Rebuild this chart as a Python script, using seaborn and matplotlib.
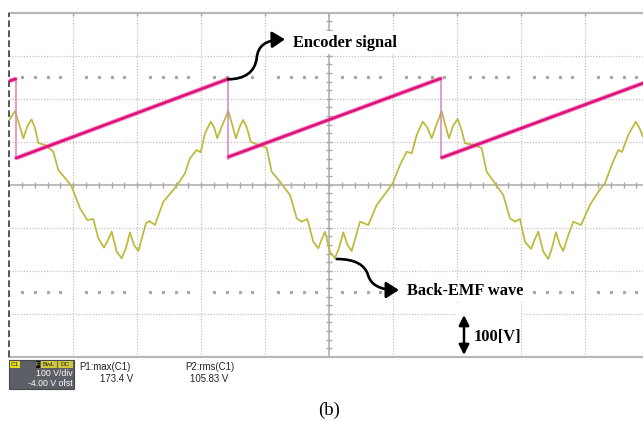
import numpy as np
import pandas as pd
import matplotlib
matplotlib.use("Agg")
import matplotlib.pyplot as plt
import seaborn as sns
from matplotlib.path import Path
from matplotlib.patches import FancyArrowPatch, Rectangle

# ---------------- data (time in divisions, voltage in V; 100 V/div) ----------------
emf_t = [0.000, 0.089, 0.152, 0.219, 0.284, 0.347, 0.402, 0.453, 0.558, 0.688,
         0.766, 0.897, 0.975, 1.105, 1.219, 1.313, 1.391, 1.480, 1.542, 1.600,
         1.678, 1.756, 1.823, 1.886, 1.948, 2.016, 2.081, 2.136, 2.188, 2.277,
         2.406, 2.563, 2.641, 2.745, 2.823, 2.928, 2.991, 3.058, 3.147, 3.198,
         3.250, 3.323, 3.422, 3.480, 3.542, 3.605, 3.656, 3.714, 3.772, 3.891,
         4.022, 4.100, 4.230, 4.386, 4.491, 4.569, 4.656, 4.750, 4.828, 4.878,
         4.933, 5.011, 5.089, 5.152, 5.219, 5.284, 5.350, 5.417, 5.480, 5.609,
         5.741, 5.897, 5.991, 6.105, 6.209, 6.288, 6.366, 6.459, 6.527, 6.600,
         6.667, 6.756, 6.808, 6.870, 6.933, 7.006, 7.058, 7.120, 7.277, 7.381,
         7.459, 7.589, 7.719, 7.823, 7.902, 7.980, 8.058, 8.152, 8.206, 8.266,
         8.344, 8.422, 8.480, 8.542, 8.605, 8.656, 8.730, 8.813, 8.933, 9.073,
         9.203, 9.308, 9.413, 9.516, 9.573, 9.672, 9.788, 9.847, 9.902]
emf_v = [150.5, 171.4, 141.2, 107.9, 136.5, 151.6, 131.9, 97.0, 92.3, 76.7,
         34.2, 10.9, -4.7, -54.9, -82.1, -79.8, -124.7, -146.5, -128.6, -109.3,
         -155.8, -171.2, -147.2, -110.7, -140.2, -154.2, -119.3, -89.8, -84.4, -93.7,
         -39.5, -12.3, 3.3, 26.5, 61.4, 80.7, 75.3, 119.5, 146.5, 134.2,
         107.9, 136.5, 171.4, 141.2, 107.9, 136.5, 150.5, 131.9, 100.0, 92.3,
         86.0, 30.2, 7.0, -24.0, -78.1, -86.0, -79.8, -132.6, -147.9, -128.6,
         -109.3, -155.8, -171.2, -147.2, -110.7, -140.2, -154.2, -119.3, -86.0, -93.7,
         -47.2, -16.3, 3.3, 45.8, 76.7, 73.0, 115.6, 146.5, 134.2, 107.9,
         136.5, 171.4, 141.2, 107.9, 136.5, 152.8, 131.9, 96.3, 92.3, 84.7,
         30.2, 3.3, -24.0, -78.1, -86.0, -79.8, -132.6, -149.5, -128.6, -109.3,
         -155.8, -172.8, -147.2, -110.7, -140.2, -154.2, -119.3, -86.0, -93.7, -47.2,
         -16.3, 3.3, 45.8, 80.7, 76.0, 115.6, 146.5, 131.9, 111.6]

# encoder sawtooth ramps (start/end) and resets
ramp_t0 = [0.000, 0.110, 3.430, 6.760]
ramp_t1 = [0.097, 3.422, 6.740, 9.902]
ramp_v0 = [241.0, 62.0, 65.0, 63.0]
ramp_v1 = [246.0, 246.0, 247.0, 236.0]
reset_t = [0.097, 3.425, 6.745]
reset_hi = [246.0, 246.0, 247.0]
reset_lo = [60.0, 57.0, 61.0]

meas_labels = ["P1:max(C1)", "P2:rms(C1)"]
meas_values = ["173.4 V", "105.83 V"]
scale_text = ["100 V/div", "-4.00 V ofst"]

# ---------------- figure ----------------
sns.set_theme(style="white")
plt.rcParams["font.family"] = ["Liberation Sans", "DejaVu Sans"]

W, H = 643, 421
fig = plt.figure(figsize=(W / 100, H / 100), dpi=100)
fig.patch.set_facecolor("white")
ax = fig.add_axes([9.3 / W, 64.3 / H, (W - 9.3) / W, 344 / H])
ax.set_xlim(0, 9.902)
ax.set_ylim(-400, 400)
ax.set_facecolor("white")
for s in ax.spines.values():
    s.set_visible(False)
ax.set_xticks([])
ax.set_yticks([])

grid_c = "#c2c2c2"
for k in range(1, 10):
    if k != 5:
        ax.axvline(k, color=grid_c, lw=0.9, ls=(0, (1, 1.3)), zorder=1)
for v in [-300, -200, -100, 100, 200, 300]:
    ax.axhline(v, color=grid_c, lw=0.9, ls=(0, (1, 1.3)), zorder=1)
ax.axhline(0, color="#a9a9a9", lw=1.1, zorder=1)
ax.axvline(5, color="#a9a9a9", lw=1.1, zorder=1)
ax.axhline(400, color="#b8b8b8", lw=1.6, zorder=1, clip_on=False)
ax.axhline(-400, color="#b8b8b8", lw=1.6, zorder=1, clip_on=False)
ax.axvline(0, color="#3a3a3a", lw=1.2, ls=(0, (4, 2)), zorder=1, clip_on=False)

minor_x = [x for x in np.arange(0.2, 9.9, 0.2) if abs(x - round(x)) > 0.05]
ax.vlines(np.arange(0.2, 9.9, 0.2), -7, 7, color="#a9a9a9", lw=1.0, zorder=1)
ax.hlines(np.arange(-380, 400, 20), 4.955, 5.045, color="#a9a9a9", lw=1.0, zorder=1)
ax.vlines(range(1, 10), 392, 400, color="#a9a9a9", lw=1.0, zorder=1)
for yy in (250, -250):
    ax.plot(minor_x, [yy] * len(minor_x), ls="none", marker="s", ms=1.3,
            color="#a6a6a6", zorder=1)

# back-EMF waveform
emf = pd.DataFrame({"t": emf_t, "v": emf_v})
sns.lineplot(data=emf, x="t", y="v", sort=False, estimator=None, ax=ax,
             color="#bdb93a", lw=1.25, zorder=3)
ax.lines[-1].set_solid_joinstyle("round")

# encoder signal resets and ramps
ax.vlines(reset_t, reset_lo, reset_hi, color="#d882c4", lw=1.1, zorder=4)
for t0, t1, v0, v1 in zip(ramp_t0, ramp_t1, ramp_v0, ramp_v1):
    seg = pd.DataFrame({"t": [t0, t1], "v": [v0, v1]})
    sns.lineplot(data=seg, x="t", y="v", sort=False, estimator=None, ax=ax,
                 color="#e8409a", lw=3.4, alpha=0.45, zorder=5)
    sns.lineplot(data=seg, x="t", y="v", sort=False, estimator=None, ax=ax,
                 color="#e0137c", lw=2.0, zorder=6)
ax.set_xlabel("")
ax.set_ylabel("")
ax.set_xlim(0, 9.902)
ax.set_ylim(-400, 400)

# annotations
serif = dict(family=["Liberation Serif", "DejaVu Serif"], weight="bold", size=11.8)
wbox = dict(facecolor="white", edgecolor="none", pad=2.5)
ax.text(4.428, 320.9, "Encoder signal", va="baseline", ha="left", color="black",
        zorder=8, bbox=wbox, **serif)
ax.text(6.219, -256.5, "Back-EMF wave", va="baseline", ha="left", color="black",
        zorder=8, bbox=wbox, **serif)
# white patch behind the scale marker
ax.add_patch(Rectangle((6.98, -397), 1.02, 120, facecolor="white", edgecolor="none", zorder=7))
ax.text(7.25, -363.5, "100[V]", va="baseline", ha="left", color="black", zorder=8, **serif)

codes = [Path.MOVETO, Path.CURVE4, Path.CURVE4, Path.CURVE4,
         Path.CURVE4, Path.CURVE4, Path.CURVE4]
enc_path = Path([(3.422, 245.1), (3.683, 245.8), (3.839, 262.1), (3.866, 294.6),
                 (3.886, 322.5), (3.995, 336.5), (4.308, 338.1)], codes)
emf_path = Path([(5.116, -172.8), (5.402, -172.8), (5.558, -186.7), (5.605, -210.0),
                 (5.652, -233.3), (5.792, -244.9), (6.089, -244.9)], codes)
for p in (enc_path, emf_path):
    arr = FancyArrowPatch(path=p, arrowstyle="-|>,head_length=0.55,head_width=0.35",
                          mutation_scale=14, lw=1.9, color="black", zorder=9)
    ax.add_patch(arr)
ax.annotate("", xy=(7.105, -303), xytext=(7.105, -396),
            arrowprops=dict(arrowstyle="<|-|>,head_length=0.5,head_width=0.25",
                            mutation_scale=12, lw=1.8, color="black",
                            shrinkA=0, shrinkB=0), zorder=9, annotation_clip=False)

# info box (scope readout)
def fx(x):
    return x / W

def fy(y):
    return 1 - y / H

fig.add_artist(Rectangle((fx(9.3), fy(388.5)), fx(74) - fx(9.3), fy(360) - fy(388.5),
                         transform=fig.transFigure, facecolor="#5d5f66",
                         edgecolor="#45474c", lw=0.8))
badges = [("C1", 10, 20, "#e3dc1e", "#222222"), ("F", 35.5, 40.3, "#111111", "#e0dc60"),
          ("BwL", 40.8, 56.8, "#cfc83a", "#222222"), ("DC", 57.5, 73.3, "#cfc83a", "#222222")]
for txt, x0, x1, bg, fg in badges:
    fig.add_artist(Rectangle((fx(x0), fy(368)), fx(x1) - fx(x0), fy(361) - fy(368),
                             transform=fig.transFigure, facecolor=bg, edgecolor="none"))
    fig.text(fx((x0 + x1) / 2), fy(364.6), txt, ha="center", va="center",
             fontsize=4.6, color=fg)
fig.text(fx(73), fy(373.8), scale_text[0], ha="right", va="center", fontsize=6.3, color="white")
fig.text(fx(73), fy(383.5), scale_text[1], ha="right", va="center", fontsize=6.3, color="white")

fig.text(fx(79), fy(367), meas_labels[0], ha="left", va="center", fontsize=6.9, color="#222222")
fig.text(fx(133.3), fy(379.5), meas_values[0], ha="right", va="center", fontsize=6.9, color="#222222")
fig.text(fx(185), fy(367), meas_labels[1], ha="left", va="center", fontsize=6.9, color="#222222")
fig.text(fx(228.5), fy(379.5), meas_values[1], ha="right", va="center", fontsize=6.9, color="#222222")

fig.text(fx(329), fy(410), "(b)", ha="center", va="center", fontsize=13.5,
         family=["Liberation Serif", "DejaVu Serif"], color="black")

fig.savefig("out.png", dpi=100, facecolor="white")
